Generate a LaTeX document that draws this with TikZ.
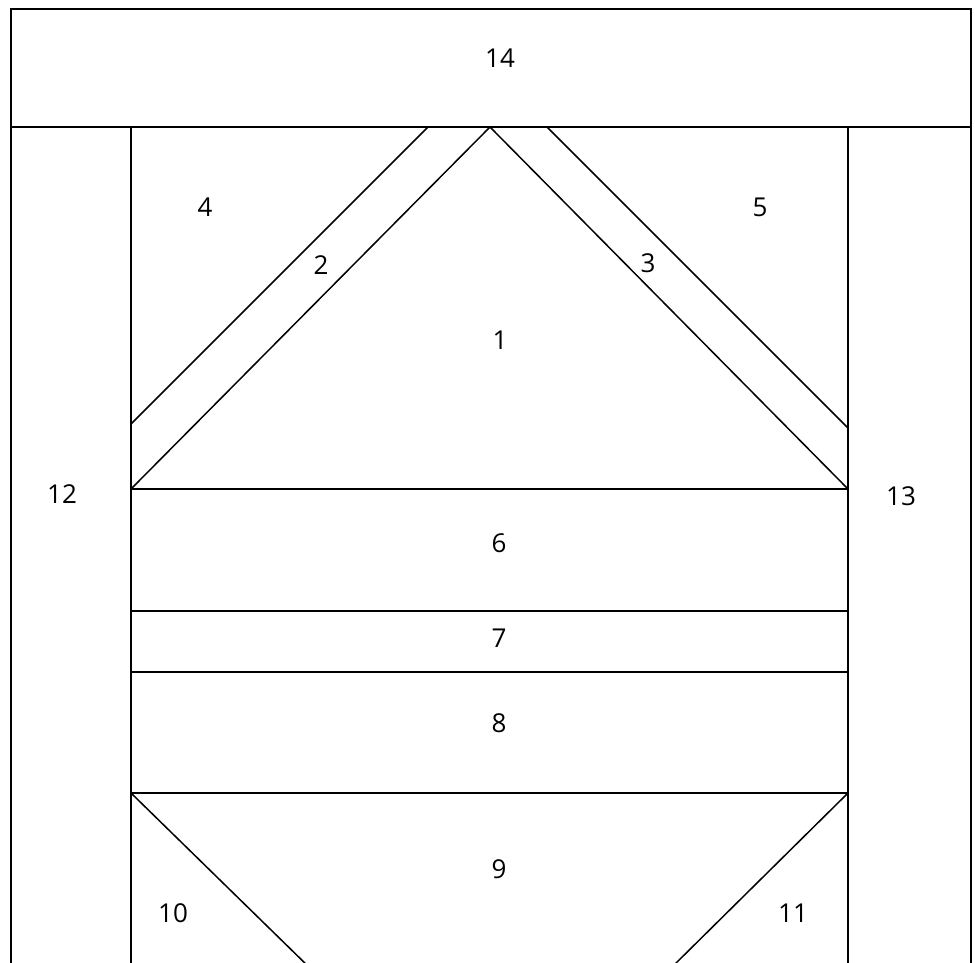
\documentclass[tikz,border=0pt]{standalone}
\usepackage{fontspec}
\setmainfont{Open Sans}
\begin{document}
\begin{tikzpicture}[x=1pt,y=-1pt,
  edge/.style={draw=black,line width=1.5pt},
  lbl/.style={font=\fontsize{26}{30}\selectfont,inner sep=0pt}]
\useasboundingbox (0,0) rectangle (975,962);
\begin{scope}
\clip (0,0) rectangle (975,962);
% outer frame
\draw[edge] (11,970) -- (11,9) -- (971,9) -- (971,970);
\draw[edge] (11,127) -- (971,127);
% columns
\draw[edge] (131,127) -- (131,970);
\draw[edge] (848,127) -- (848,970);
% strips and triangle
\draw[edge] (428,127) -- (131,424);
\draw[edge] (131,489) -- (490,127) -- (848,489);
\draw[edge] (547,127) -- (848,428);
% horizontal bands
\draw[edge] (131,489) -- (848,489);
\draw[edge] (131,611) -- (848,611);
\draw[edge] (131,672) -- (848,672);
\draw[edge] (131,793) -- (848,793);
% bottom triangles
\draw[edge] (131,793) -- (312,970);
\draw[edge] (848,793) -- (669,970);
\end{scope}
% labels
\node[lbl] (n14) at (500,58) {14};
\node[lbl] (n4) at (205,207) {4};
\node[lbl] (n5) at (760,207) {5};
\node[lbl] (n2) at (321,265) {2};
\node[lbl] (n3) at (648,263) {3};
\node[lbl] (n1) at (500,340) {1};
\node[lbl] (n12) at (62,494) {12};
\node[lbl] (n13) at (901,496) {13};
\node[lbl] (n6) at (499,543) {6};
\node[lbl] (n7) at (499,638) {7};
\node[lbl] (n8) at (499,723) {8};
\node[lbl] (n9) at (499,869) {9};
\node[lbl] (n10) at (173,913) {10};
\node[lbl] (n11) at (793,913) {11};
\end{tikzpicture}
\end{document}
